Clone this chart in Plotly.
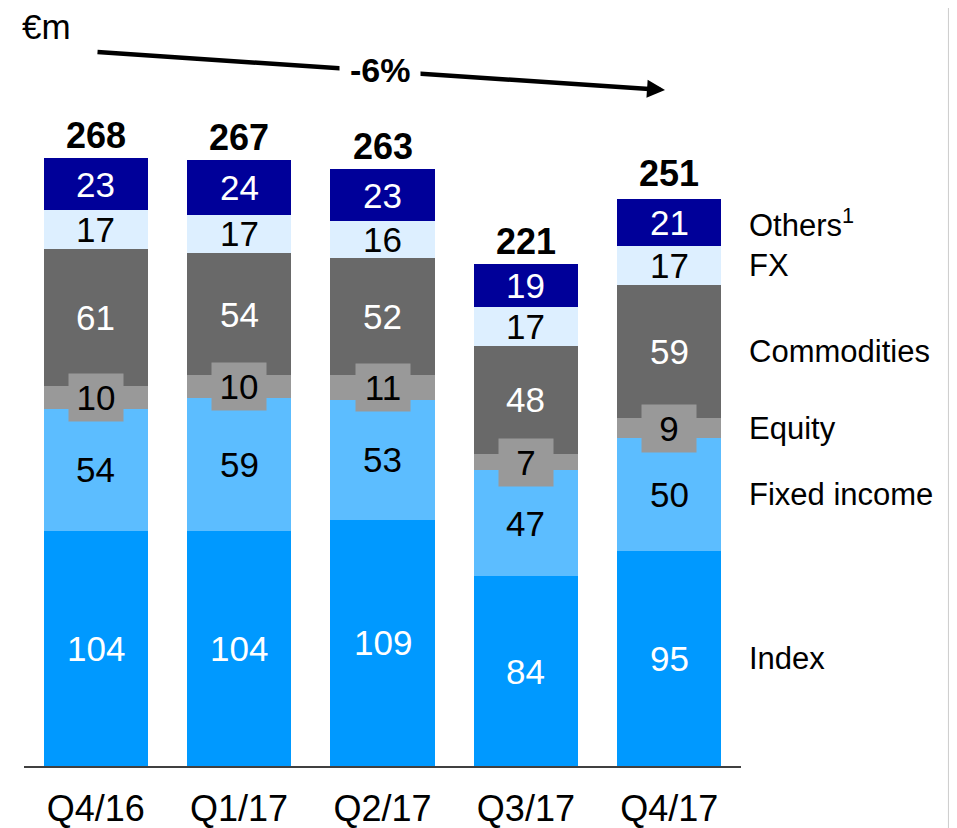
import plotly.graph_objects as go

quarters = ["Q4/16", "Q1/17", "Q2/17", "Q3/17", "Q4/17"]
index_vals = [104, 104, 109, 84, 95]
fixed_income = [54, 59, 53, 47, 50]
equity = [10, 10, 11, 7, 9]
commodities = [61, 54, 52, 48, 59]
fx = [17, 17, 16, 17, 17]
others = [23, 24, 23, 19, 21]
totals = [268, 267, 263, 221, 251]

series = [
    ("Index", index_vals, "#0099FF", "white"),
    ("Fixed income", fixed_income, "#5CBDFF", "black"),
    ("Equity", equity, "#999999", "black"),
    ("Commodities", commodities, "#696969", "white"),
    ("FX", fx, "#DDEFFF", "black"),
    ("Others<sup>1</sup>", others, "#000099", "white"),
]

FONT = "Liberation Sans, Arial, sans-serif"

fig = go.Figure()
annotations = []
base = [0] * len(quarters)

for name, vals, color, txtcol in series:
    fig.add_trace(go.Bar(x=quarters, y=vals, name=name, marker=dict(color=color, line=dict(width=0)),
                         hoverinfo="x+y+name"))
    # segment labels
    for i, v in enumerate(vals):
        mid = base[i] + v / 2
        a = dict(x=quarters[i], y=mid, xref="x", yref="y", text=str(v), showarrow=False,
                 xanchor="center", yanchor="middle",
                 font=dict(family=FONT, size=35, color=txtcol))
        if name == "Equity":
            a.update(bgcolor=color, width=52, height=45)
        annotations.append(a)
    # category label on the right, next to the last bar
    annotations.append(dict(x=1.0084, y=base[-1] + vals[-1] / 2, xref="paper", yref="y",
                            xanchor="left", yanchor="middle", text=name, showarrow=False,
                            font=dict(family=FONT, size=31, color="black")))
    base = [b + v for b, v in zip(base, vals)]

# totals on top
for q, t in zip(quarters, totals):
    annotations.append(dict(x=q, y=t, xref="x", yref="y", text="<b>%d</b>" % t, showarrow=False,
                            xanchor="center", yanchor="middle", yshift=25,
                            font=dict(family=FONT, size=36, color="black")))

# unit label
annotations.append(dict(x=-0.0056, y=0.9775, xref="paper", yref="paper", xanchor="left",
                        yanchor="middle", text="€m", showarrow=False,
                        font=dict(family=FONT, size=35, color="black")))

# trend arrow
annotations.append(dict(x=0.894, y=0.893, xref="paper", yref="paper", ax=-569, ay=-38,
                        text="", showarrow=True, arrowhead=2, arrowsize=0.8, arrowwidth=4.5,
                        arrowcolor="black", standoff=0, startstandoff=0))
annotations.append(dict(x=0.4965, y=0.919, xref="paper", yref="paper", text="<b>-6%</b>",
                        xanchor="center", yanchor="middle",
                        showarrow=False, bgcolor="white", borderpad=10,
                        font=dict(family=FONT, size=34, color="black")))

# page body has an 8px margin, so the figure is sized/offset to compensate
fig.update_layout(
    barmode="stack",
    bargap=0.274,
    width=949,
    height=820,
    margin=dict(l=16, r=216, t=1, b=62),
    plot_bgcolor="white",
    paper_bgcolor="white",
    showlegend=False,
    annotations=annotations,
    xaxis=dict(range=[-0.5, 4.5], showline=True, linecolor="#404040", linewidth=2,
               showgrid=False, ticks="", ticklabelstandoff=10, automargin=False,
               tickfont=dict(family=FONT, size=36, color="black")),
    yaxis=dict(range=[0, 335], visible=False, showgrid=False, automargin=False),
    shapes=[dict(type="line", xref="paper", yref="paper", x0=1.29, x1=1.29, y0=-0.1, y1=1.02,
                 line=dict(color="#CFCFCF", width=2))],
)

fig.write_html("out.html")
